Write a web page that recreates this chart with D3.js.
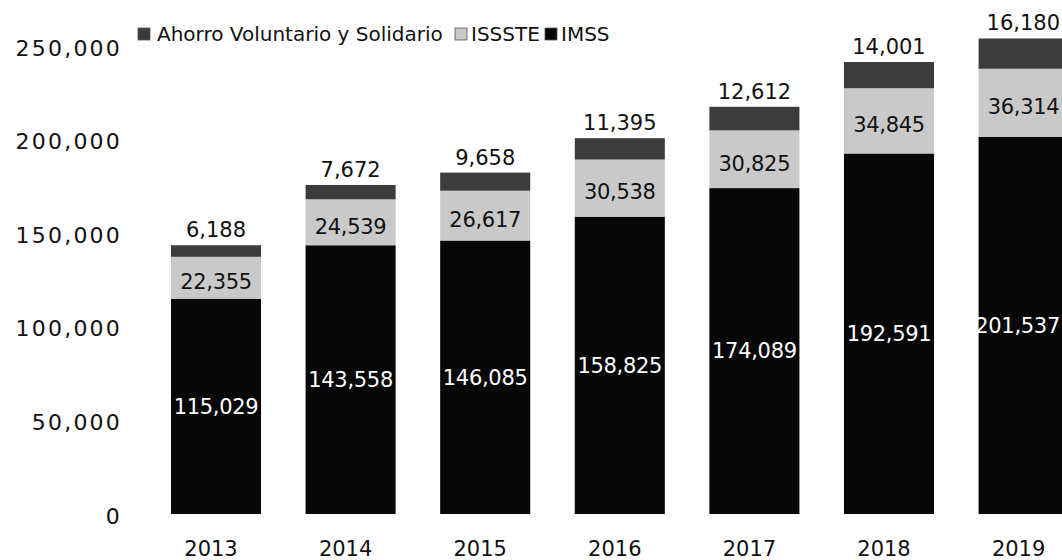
<!DOCTYPE html>
<html><head><meta charset="utf-8">
<script src="https://cdn.jsdelivr.net/npm/d3@7"></script>
<style>body{margin:0;background:#fff}svg{display:block}text{font-family:"DejaVu Sans",sans-serif}</style>
</head><body><svg id="c" width="1062" height="560"></svg>
<script>
const years = ["2013","2014","2015","2016","2017","2018","2019"];
const imss = [115029,143558,146085,158825,174089,192591,201537];
const issste = [22355,24539,26617,30538,30825,34845,36314];
const ahorro = [6188,7672,9658,11395,12612,14001,16180];
const seriesNames = ["IMSS","ISSSTE","Ahorro Voluntario y Solidario"];
const yTicks = [0,50000,100000,150000,200000,250000];
const colors = {"IMSS":"#070707","ISSSTE":"#c9c9c9","Ahorro Voluntario y Solidario":"#3c3c3c"};

const W = 1062;
const svg = d3.select("#c");
const x = d3.scaleBand().domain(years).range([148.7,1090.9]).paddingInner(0.331).paddingOuter(0.1655);
const y = d3.scaleLinear().domain([0,250000]).range([514,46]);
const fmt = d3.format(",");

const rows = years.map((yr,i)=>({year:yr,"IMSS":imss[i],"ISSSTE":issste[i],"Ahorro Voluntario y Solidario":ahorro[i]}));
const stack = d3.stack().keys(seriesNames)(rows);

// y axis labels
const yAxis = d3.axisLeft(y).tickValues(yTicks).tickFormat(fmt).tickSize(0).tickPadding(0);
const ga = svg.append("g").attr("transform","translate(122,2)").call(yAxis);
ga.select(".domain").remove();
ga.selectAll("text").attr("font-size",22).attr("fill","#111").attr("letter-spacing","2.2px").attr("font-family","DejaVu Sans");

// bars
svg.append("g").selectAll("g").data(stack).join("g").attr("fill",d=>colors[d.key])
  .selectAll("rect").data(d=>d).join("rect")
  .attr("x",d=>x(d.data.year)).attr("width",x.bandwidth())
  .attr("y",d=>y(d[1])).attr("height",d=>y(d[0])-y(d[1]));

// x axis labels
const xAxis = d3.axisBottom(x).tickSize(0).tickPadding(0);
const gx = svg.append("g").attr("transform","translate(-5,535)").call(xAxis);
gx.select(".domain").remove();
gx.selectAll("text").attr("font-size",21).attr("fill","#111").attr("dy","1em").attr("font-family","DejaVu Sans");

// value labels (kept inside the picture)
const lab = svg.append("g").attr("font-size",21).attr("text-anchor","middle");
function place(t, cx){
  const w = t.node().getComputedTextLength();
  t.attr("x", Math.min(cx, W - 2 - w/2));
}
stack[0].forEach(d=>{
  const t = lab.append("text").attr("y",(y(d[0])+y(d[1]))/2).attr("dy","0.35em")
    .attr("fill","#fff").attr("letter-spacing","-0.3px").text(fmt(d[1]-d[0]));
  place(t, x(d.data.year)+x.bandwidth()/2);
});
stack[1].forEach(d=>{
  const t = lab.append("text").attr("y",(y(d[0])+y(d[1]))/2+4).attr("dy","0.35em")
    .attr("fill","#111").attr("letter-spacing","-0.3px").text(fmt(d[1]-d[0]));
  place(t, x(d.data.year)+x.bandwidth()/2);
});
stack[2].forEach(d=>{
  const t = lab.append("text").attr("y",y(d[1])-8)
    .attr("fill","#111").text(fmt(d[1]-d[0]));
  place(t, x(d.data.year)+x.bandwidth()/2);
});

// legend
const legend = svg.append("g").attr("font-size",20);
const legItems = [["Ahorro Voluntario y Solidario",138,157],["ISSSTE",455,471],["IMSS",545,561]];
legItems.forEach(([name,ix,tx])=>{
  legend.append("rect").attr("x",ix).attr("y",28).attr("width",12).attr("height",12)
    .attr("fill",colors[name]).attr("stroke","#555").attr("stroke-width",0.8);
  legend.append("text").attr("x",tx).attr("y",41).attr("fill","#111").text(name);
});
</script></body></html>
